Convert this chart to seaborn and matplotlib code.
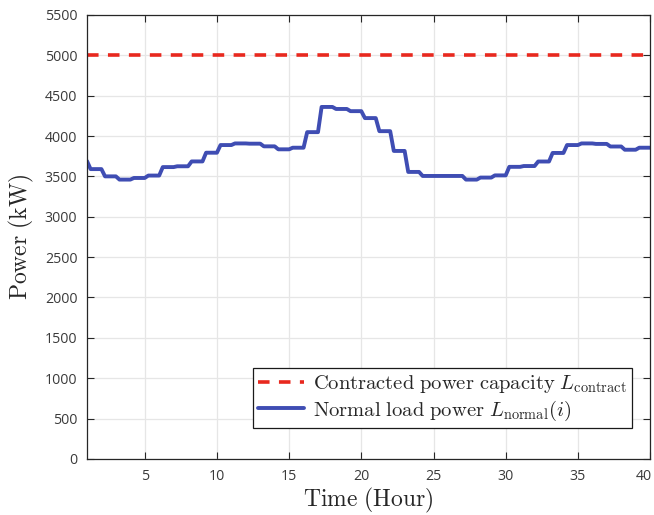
import numpy as np
import pandas as pd
import matplotlib
matplotlib.use("Agg")
import matplotlib.pyplot as plt
import matplotlib.transforms as mtransforms
import seaborn as sns

# ---- data ----
start_value = 3690  # load at hour 1 (before the first change)
hourly_load = [3590, 3500, 3460, 3480, 3510, 3615, 3625, 3685, 3793, 3888,
               3908, 3905, 3872, 3835, 3855, 4048, 4360, 4335, 4308, 4222,
               4060, 3815, 3555, 3505, 3505, 3505, 3460, 3485, 3512, 3618,
               3628, 3684, 3790, 3888, 3908, 3902, 3870, 3830, 3855]
contract_capacity = 5000
x_ticks = [5, 10, 15, 20, 25, 30, 35, 40]
y_ticks = list(range(0, 5501, 500))
steps_per_hour = 4  # 15-minute samples

# 15-min time series (each hourly value held for 4 samples)
time = 1 + np.arange(len(hourly_load) * steps_per_hour + 1) / steps_per_hour
load = np.concatenate([[start_value], np.repeat(hourly_load, steps_per_hour)])
df = pd.DataFrame({"time": time, "load": load,
                   "contract": np.full(len(time), contract_capacity)})

sns.set_theme(style="whitegrid")
plt.rcParams["mathtext.fontset"] = "cm"
plt.rcParams["font.family"] = ["Open Sans", "DejaVu Sans"]

fig = plt.figure(figsize=(6.54, 5.15), dpi=100)
ax = fig.add_axes([0.133, 0.109, 0.861, 0.862])

sns.lineplot(data=df, x="time", y="contract", ax=ax, color="#e8281e",
             linewidth=2.6, linestyle=(0, (3.2, 2.6)),
             label=r"$\mathrm{Contracted\ power\ capacity}\ L_{\mathrm{contract}}$")
sns.lineplot(data=df, x="time", y="load", ax=ax, color="#3f4db3",
             linewidth=2.8,
             label=r"$\mathrm{Normal\ load\ power}\ L_{\mathrm{normal}}(i)$")

ax.set_xlim(1, 40)
ax.set_ylim(0, 5500)
ax.set_xticks(x_ticks)
ax.set_yticks(y_ticks)
ax.grid(True, color="#e6e6e6", linewidth=0.9)
ax.set_facecolor("white")
for s in ax.spines.values():
    s.set_visible(True)
    s.set_color("#262626")
    s.set_linewidth(0.9)
ax.tick_params(axis="both", which="both", direction="in", length=5, width=0.8,
               color="#262626", top=True, right=True, bottom=True, left=True,
               labelsize=10.2, labelcolor="#3a3a3a", pad=7)

# keep the last x tick label inside the figure
last = ax.get_xticklabels()[-1]
last.set_transform(last.get_transform() +
                   mtransforms.ScaledTranslation(-6 / 100, 0, fig.dpi_scale_trans))

ax.set_xlabel(r"$\mathrm{Time\ (Hour)}$", fontsize=17, labelpad=2)
ax.set_ylabel(r"$\mathrm{Power\ (kW)}$", fontsize=17, labelpad=6)

leg = ax.legend(loc="lower right", bbox_to_anchor=(0.968, 0.07), fontsize=14.8,
                frameon=True, fancybox=False, framealpha=1, edgecolor="#1a1a1a",
                handlelength=2.2, borderpad=0.25, labelspacing=0.15,
                handletextpad=0.45, borderaxespad=0)
leg.get_frame().set_linewidth(0.9)

fig.savefig("out.png", dpi=100)
